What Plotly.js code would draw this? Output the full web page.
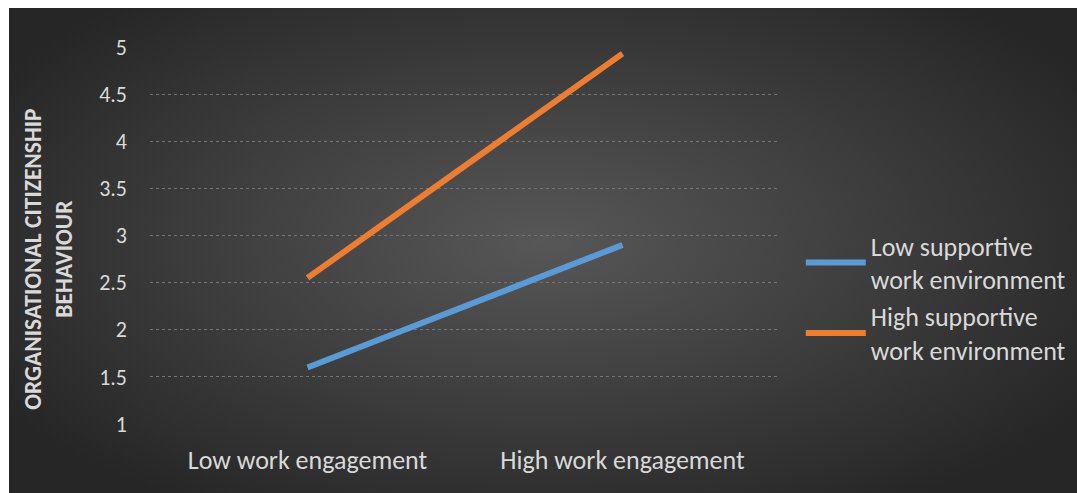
<!DOCTYPE html>
<html><head><meta charset="utf-8">
<script src="https://cdn.plot.ly/plotly-3.0.1.min.js"></script>
<style>
html,body{margin:0;padding:0;background:#fff;width:1077px;height:493px;overflow:hidden}
#bg{position:absolute;left:9px;top:8px;width:1068px;height:485px;
background:radial-gradient(ellipse 60% 65% at 50% 48%, #575757 0%, #3c3c3c 55%, #262626 100%);}
#chart{position:absolute;left:0;top:0;width:1077px;height:493px}
</style></head><body>
<div id="bg"></div><div id="chart"></div>
<script>
const categories = ["Low work engagement", "High work engagement"];
const lowSupportive = [1.6, 2.9];
const highSupportive = [2.55, 4.93];
const seriesNames = ["Low supportive<br>work environment", "High supportive<br>work environment"];
const yTicks = [1, 1.5, 2, 2.5, 3, 3.5, 4, 4.5, 5];
const yTickText = ["1", "1.5", "2", "2.5", "3", "3.5", "4", "4.5", "5"];

const font = "Calibri, Carlito, Lato, 'Open Sans', sans-serif";
const traces = [
  {x: categories, y: lowSupportive, name: seriesNames[0], type: 'scatter', mode: 'lines',
   line: {color: '#5B9BD5', width: 6}},
  {x: categories, y: highSupportive, name: seriesNames[1], type: 'scatter', mode: 'lines',
   line: {color: '#ED7D31', width: 6}}
];
const layout = {
  width: 1077, height: 493,
  paper_bgcolor: 'rgba(0,0,0,0)', plot_bgcolor: 'rgba(0,0,0,0)',
  margin: {l: 150, r: 297, t: 47, b: 69, autoexpand: false},
  font: {family: font, color: '#d9d9d9'},
  showlegend: true,
  legend: {x: 1.033, y: 0.334, xanchor: 'left', yanchor: 'middle',
    font: {size: 26, color: '#d9d9d9', family: font}, bgcolor: 'rgba(0,0,0,0)',
    tracegroupgap: 9, itemwidth: 60},
  xaxis: {type: 'category', range: [-0.5, 1.5], showgrid: false, zeroline: false,
    showline: false, ticks: '', tickfont: {size: 26, color: '#d9d9d9', family: font}, ticklabelstandoff: 18},
  yaxis: {range: [1, 5], tickvals: yTicks, ticktext: yTickText, showgrid: true,
    gridcolor: '#757575', griddash: 'dot', gridwidth: 1, zeroline: false, showline: false,
    ticks: '', tickfont: {size: 22, color: '#d9d9d9', family: font}, ticklabelstandoff: 22},
  annotations: [{
    text: '<b>ORGANISATIONAL CITIZENSHIP<br>BEHAVIOUR</b>', textangle: -90,
    xref: 'paper', yref: 'paper', x: -0.161, y: 0.437, xanchor: 'center', yanchor: 'middle',
    showarrow: false, font: {size: 23.5, color: '#d9d9d9', family: font}
  }]
};
Plotly.newPlot('chart', traces, layout, {displayModeBar: false, staticPlot: true});
</script></body></html>
